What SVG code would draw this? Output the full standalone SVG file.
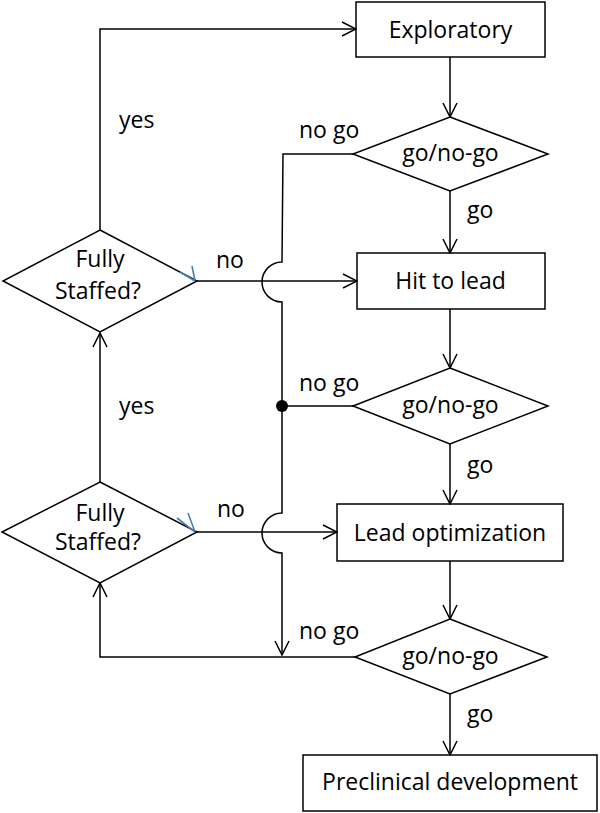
<svg xmlns="http://www.w3.org/2000/svg" width="600" height="813" viewBox="0 0 600 813">
<style>
.shape{fill:#fff;stroke:#000;stroke-width:1.5}
.line{fill:none;stroke:#000;stroke-width:1.5}
.blue{fill:none;stroke:#4a7ebb;stroke-width:1.6}
text{font-family:"Open Sans","Liberation Sans",sans-serif;font-size:23px;fill:#000}
.c{text-anchor:middle}
</style>
<defs>
<marker id="arr" viewBox="0 0 16 16" refX="15" refY="8" markerWidth="16" markerHeight="16" markerUnits="userSpaceOnUse" orient="auto">
<path d="M1,1 L15,8 L1,15" fill="none" stroke="#000" stroke-width="1.5"/>
</marker>
</defs>
<rect width="600" height="813" fill="#fff"/>
<g id="exploratory">
<rect class="shape" x="356" y="2" width="189" height="55"/>
<text class="c" x="450.5" y="38">Exploratory</text>
</g>
<g id="gonogo1">
<polygon class="shape" points="450,117 548,154 450,191 353,154"/>
<text class="c" x="450.5" y="161">go/no-go</text>
</g>
<g id="hittolead">
<rect class="shape" x="357" y="253" width="188" height="56"/>
<text class="c" x="450.5" y="289">Hit to lead</text>
</g>
<g id="gonogo2">
<polygon class="shape" points="450,368 548,406 450,444 353,406"/>
<text class="c" x="450.5" y="413">go/no-go</text>
</g>
<g id="leadopt">
<rect class="shape" x="337" y="504" width="226" height="57"/>
<text class="c" x="450" y="541">Lead optimization</text>
</g>
<g id="gonogo3">
<polygon class="shape" points="450,619 547,657 450,694 355,657"/>
<text class="c" x="450.5" y="664">go/no-go</text>
</g>
<g id="preclinical">
<rect class="shape" x="303" y="755" width="294" height="56"/>
<text class="c" x="450" y="790">Preclinical development</text>
</g>
<g id="staffed1">
<polygon class="shape" points="100,230 197,281 100,332 3,281"/>
<text class="c" x="100" y="267">Fully</text>
<text class="c" x="98" y="299">Staffed?</text>
</g>
<g id="staffed2">
<polygon class="shape" points="100,482 197,532 100,583 2,532"/>
<text class="c" x="100" y="521">Fully</text>
<text class="c" x="98" y="550">Staffed?</text>
</g>
<g id="connectors">
<line class="line" x1="450" y1="57" x2="450" y2="117" marker-end="url(#arr)"/>
<line class="line" x1="450" y1="191" x2="450" y2="253" marker-end="url(#arr)"/>
<line class="line" x1="450" y1="309" x2="450" y2="368" marker-end="url(#arr)"/>
<line class="line" x1="450" y1="444" x2="450" y2="504" marker-end="url(#arr)"/>
<line class="line" x1="450" y1="561" x2="450" y2="619" marker-end="url(#arr)"/>
<line class="line" x1="450" y1="694" x2="450" y2="755" marker-end="url(#arr)"/>
<polyline class="line" points="100,230 100,29 356,29" marker-end="url(#arr)"/>
<line class="line" x1="197" y1="281" x2="357" y2="281" marker-end="url(#arr)"/>
<line class="line" x1="100" y1="482" x2="100" y2="333" marker-end="url(#arr)"/>
<line class="line" x1="197" y1="532" x2="337" y2="532" marker-end="url(#arr)"/>
<path class="line" d="M353,154 L283,154 L282,262 A20,20 0 0 0 282,302 L282,513 A20,20 0 0 0 282,553 L282,655" marker-end="url(#arr)"/>
<line class="line" x1="282" y1="406" x2="353" y2="406"/>
<circle cx="282" cy="406" r="6" fill="#000"/>
<polyline class="line" points="355,657 100,657 100,583" marker-end="url(#arr)"/>
<path class="blue" d="M180,272 L195,281 M192,266 L195,281"/>
<path class="blue" d="M177,518 L195,532 M188,513 L195,532"/>
</g>
<g id="labels">
<text x="119" y="128">yes</text>
<text x="119" y="414">yes</text>
<text x="216" y="268">no</text>
<text x="217" y="517">no</text>
<text x="299" y="138">no go</text>
<text x="299" y="391">no go</text>
<text x="299" y="639">no go</text>
<text x="467" y="218">go</text>
<text x="467" y="473">go</text>
<text x="467" y="722">go</text>
</g>
</svg>
